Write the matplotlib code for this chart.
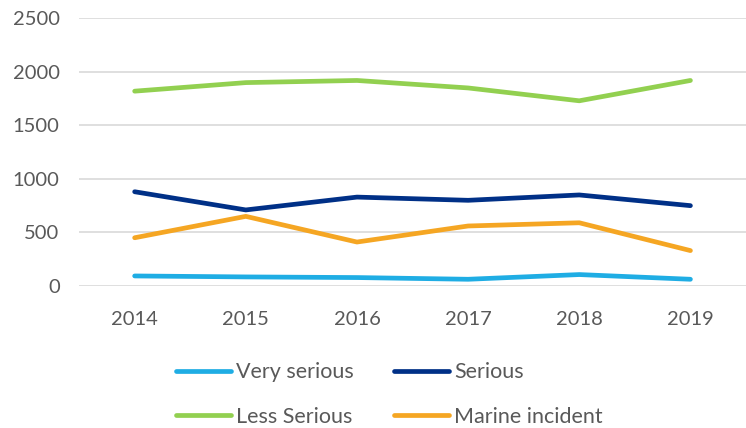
import matplotlib.pyplot as plt
import numpy as np

plt.rcParams['font.family'] = ['Lato', 'DejaVu Sans']

years = ['2014', '2015', '2016', '2017', '2018', '2019']
very_serious = [93, 84, 78, 62, 106, 62]
serious = [880, 710, 830, 800, 850, 750]
less_serious = [1820, 1900, 1920, 1850, 1730, 1920]
marine_incident = [450, 650, 410, 560, 590, 330]

fig = plt.figure(figsize=(7.46, 4.28), dpi=100)
ax = fig.add_axes([0.106, 0.332, 0.894, 0.625])

x = np.arange(len(years))
lw = 3.4
l1, = ax.plot(x, very_serious, color='#1FADE4', lw=lw, solid_capstyle='round', label='Very serious')
l2, = ax.plot(x, serious, color='#003087', lw=lw, solid_capstyle='round', label='Serious')
l3, = ax.plot(x, less_serious, color='#92D050', lw=lw, solid_capstyle='round', label='Less Serious')
l4, = ax.plot(x, marine_incident, color='#F5A623', lw=lw, solid_capstyle='round', label='Marine incident')

ax.set_xlim(-0.5, 5.5)
ax.set_ylim(0, 2500)
ax.set_yticks(np.arange(0, 2501, 500))
ax.set_xticks(x)
ax.set_xticklabels(years)
ax.grid(axis='y', color='#D9D9D9', lw=1.2)
ax.set_axisbelow(True)
for s in ax.spines.values():
    s.set_visible(False)
ax.tick_params(length=0, labelsize=14.5, colors='#595959')
ax.tick_params(axis='x', pad=18)
ax.tick_params(axis='y', pad=14)

leg = fig.legend([l1, l3, l2, l4], ['Very serious', 'Less Serious', 'Serious', 'Marine incident'],
                 ncol=2, loc='center', bbox_to_anchor=(0.522, 0.078), frameon=False,
                 fontsize=15.5, handlelength=2.55, handletextpad=0.23, columnspacing=1.86,
                 labelspacing=1.15)
for t in leg.get_texts():
    t.set_color('#595959')

fig.savefig('out.png', dpi=100)
